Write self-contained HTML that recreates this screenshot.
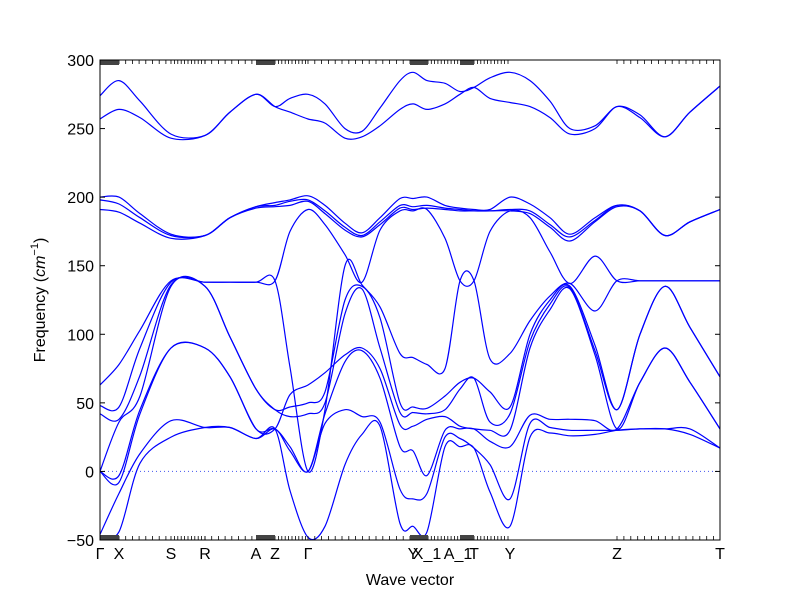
<!DOCTYPE html>
<html><head><meta charset="utf-8"><style>
body{margin:0;background:#fff;}
svg{display:block;font-family:"Liberation Sans","DejaVu Sans",sans-serif;}
</style></head><body>
<svg id="chart" width="800" height="600" viewBox="0 0 800 600">
<rect x="0" y="0" width="800" height="600" fill="#fff"/>
<g id="bands"></g>
<g id="ticks"></g>
<rect x="100" y="60" width="620" height="480" fill="none" stroke="#000" stroke-width="1"/>
<text x="410" y="585" font-size="16" text-anchor="middle">Wave vector</text>
<text transform="translate(45,300) rotate(-90)" font-size="16" text-anchor="middle">Frequency (<tspan font-style="italic">cm</tspan><tspan font-size="11" dy="-7">−1</tspan><tspan dy="7">)</tspan></text>
</svg>
<script>
const kd=[0,0.19,0.40,0.71,1.05,1.30,1.56,1.75,1.90,2.08,2.25,2.45,2.62,2.80,3.00,3.13,3.27,3.45,3.60,3.74,3.90,4.10,4.30,4.50,4.70,4.95,5.17,5.40,5.65,5.90,6.20];
const band1=[274,285,270,246,245,262,275,266,272,275,268,250,248,265,285,291,285,283,277,280,287,291,285,270,250,252,266,260,244,262,281];
const band2=[257,264,258,243,245,262,275,266,262,257,254,243,244,252,264,268,264,268,275,280,272,269,266,258,246,250,266,258,244,262,281];
const band3=[200,200,188,173,172,185,193,196,198,201,194,181,174,185,199,199,200,194,192,191,191,200,195,185,173,185,194,190,172,182,191];
const band4=[198,195,185,172,172,185,193,194,197,198,190,178,172,182,194,193,194,192,191,190,190,191,190,180,171,183,194,190,172,182,191];
const band5=[191,189,181,170,172,185,192,193,194,197,188,176,171,180,192,191,192,191,190,190,190,190,188,178,168,182,193,190,172,182,191];
const band6=[63,78,103,139,138,138,138,139,175,191,180,158,138,176,190,190,191,170,139,139,175,190,185,160,137,157,139,139,139,139,139];
const band7=[48,47,90,138,138,138,138,139,76,0,45,150,136,120,86,83,78,75,139,139,82,86,110,128,137,117,139,139,139,139,139];
const band8=[42,38,70,136,135,98,60,45,47,50,58,125,135,112,50,47,46,55,65,68,58,47,100,125,135,92,45,100,135,105,69];
const band9=[0,36,55,135,135,98,60,45,40,42,50,115,133,90,43,43,42,45,60,68,36,42,95,122,134,88,45,100,135,105,69];
const band10=[0,-3,45,90,90,69,31,31,56,63,72,85,90,75,34,33,38,40,33,31,30,30,90,118,133,85,31,65,90,65,31];
const band11=[0,-8,42,90,90,69,31,31,18,0,42,80,88,68,18,15,-3,30,31,31,22,18,41,38,38,37,31,65,90,65,31];
const band12=[-46,-16,13,37,32,32,24,31,15,0,35,45,40,36,-13,-20,-16,25,24,17,5,-20,35,32,30,30,30,31,31,31,17];
const band13=[-48,-44,6,25,32,32,24,31,-14,-48,-40,5,27,33,-38,-40,-44,18,18,17,-15,-40,25,28,26,27,30,31,31,27,17];
const yTicks=[-50,0,50,100,150,200,250,300];
const kLabels=["Γ","X","S","R","A","Z","Γ","Y","X_1","A_1","T","Y","Z","T"];
const kLabelPos=[0,0.19,0.71,1.05,1.56,1.75,2.08,3.13,3.27,3.58,3.74,4.10,5.17,6.20];

const NS="http://www.w3.org/2000/svg";
const X0=100,X1=720,Y0=540,Y1=60,KMAX=6.2,FMIN=-50,FMAX=300;
function xs(k){return X0+(k/KMAX)*(X1-X0);}
function ys(f){return Y0-(f-FMIN)/(FMAX-FMIN)*(Y0-Y1);}
function mk(tag,attrs,parent){const e=document.createElementNS(NS,tag);for(const a in attrs)e.setAttribute(a,attrs[a]);parent.appendChild(e);return e;}
const bandsG=document.getElementById('bands');
const ticksG=document.getElementById('ticks');
const svg=document.getElementById('chart');

const zl=mk('line',{x1:X0,x2:X1,y1:ys(0),y2:ys(0),stroke:'#4455ee','stroke-width':1,'stroke-dasharray':'1,3'},bandsG);



const allBands=[band1,band2,band3,band4,band5,band6,band7,band8,band9,band10,band11,band12,band13];
allBands.forEach((b,bi)=>{
  const pts=b.map((f,i)=>[xs(kd[i]),ys(f)]);
  let d='M'+pts[0][0].toFixed(1)+','+pts[0][1].toFixed(1);
  for(let i=0;i<pts.length-1;i++){
    const p0=pts[Math.max(0,i-1)],p1=pts[i],p2=pts[i+1],p3=pts[Math.min(pts.length-1,i+2)];
    const t=0.16;
    const c1=[p1[0]+(p2[0]-p0[0])*t,p1[1]+(p2[1]-p0[1])*t];
    const c2=[p2[0]-(p3[0]-p1[0])*t,p2[1]-(p3[1]-p1[1])*t];
    d+=' C'+c1[0].toFixed(1)+','+c1[1].toFixed(1)+' '+c2[0].toFixed(1)+','+c2[1].toFixed(1)+' '+p2[0].toFixed(1)+','+p2[1].toFixed(1);
  }
  const p=mk('path',{d:d,fill:'none',stroke:'#0000ff','stroke-width':1.2},bandsG);
  
  
});

yTicks.forEach(v=>{
  const y=ys(v);
  mk('line',{x1:X0,x2:X0+5,y1:y,y2:y,stroke:'#000'},ticksG);
  mk('line',{x1:X1-5,x2:X1,y1:y,y2:y,stroke:'#000'},ticksG);
  const t=mk('text',{x:X0-6,y:y+6,'font-size':16,'text-anchor':'end'},svg);
  t.textContent=(v<0?'−':'')+Math.abs(v);
  
  
});

const segs=[[119,171,6.7],[171,205,3.4],[205,256,6.7],[275,308,3.4],[308,410,6.8],[428,460,3.3],[474,510,3.4],[617,720,6.9]];
segs.forEach(s=>{for(let x=s[0];x<=s[1]+0.1;x+=s[2]){
  mk('line',{x1:x,x2:x,y1:Y1,y2:Y1+4,stroke:'#000','stroke-width':0.8},ticksG);
  mk('line',{x1:x,x2:x,y1:Y0-4,y2:Y0,stroke:'#000','stroke-width':0.8},ticksG);
}});
[[100,119],[256,275],[410,428],[460,474]].forEach(b=>{
  mk('rect',{x:b[0],y:Y1,width:b[1]-b[0],height:5,fill:'#444'},ticksG);
  mk('rect',{x:b[0],y:Y0-5,width:b[1]-b[0],height:5,fill:'#444'},ticksG);
});

kLabels.forEach((s,i)=>{
  const t=mk('text',{x:xs(kLabelPos[i]),y:559,'font-size':16,'text-anchor':'middle'},svg);
  t.textContent=s;
  
  
});
</script>
</body></html>
